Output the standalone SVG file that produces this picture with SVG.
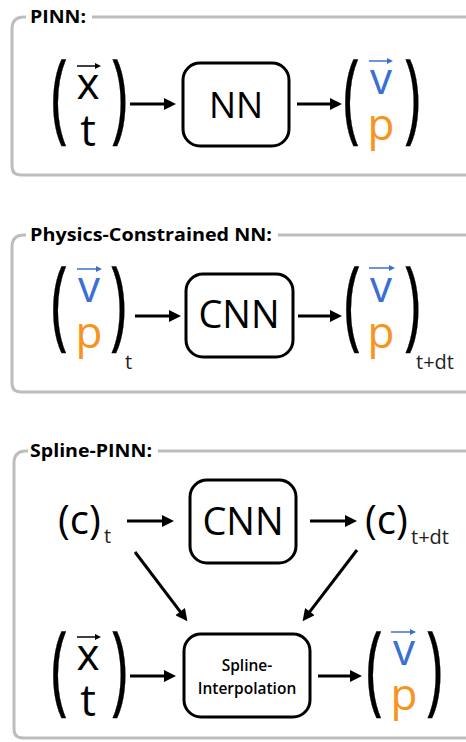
<svg xmlns="http://www.w3.org/2000/svg" width="466" height="742" viewBox="0 0 466 742">
<style>
.frame{fill:none;stroke:#bdbdbd;stroke-width:3}
.title{font-family:"Open Sans",sans-serif;font-weight:700;font-size:18px;fill:#000}
.big{font-family:"Open Sans",sans-serif;font-size:44px;text-anchor:middle}
.paren{font-family:"Open Sans",sans-serif;font-size:45px;fill:#000;stroke:#000;stroke-width:0.2}
.sub{font-family:"Open Sans",sans-serif;font-size:20px;fill:#222}
.box{fill:#fff;stroke:#000;stroke-width:3}
.lbl{font-family:"Open Sans",sans-serif;font-size:38px;text-anchor:middle;fill:#000}
.cc{font-family:"Open Sans",sans-serif;font-size:40px;fill:#000}
.spl{font-family:"Open Sans",sans-serif;font-size:15.5px;font-weight:600;text-anchor:middle;fill:#000}
.arr{stroke:#000;stroke-width:3;fill:none;marker-end:url(#ah)}
.blue{fill:#3a6fd3}
.orange{fill:#f7941d}
.vecb{stroke:#3a6fd3;stroke-width:1.5;marker-end:url(#vb)}
.veck{stroke:#000;stroke-width:1.5;marker-end:url(#vk)}
</style>
<defs>
<marker id="ah" viewBox="0 0 10 10" refX="5" refY="5" markerWidth="14" markerHeight="12" markerUnits="userSpaceOnUse" orient="auto"><path d="M0,0 L10,5 L0,10 z" fill="#000"/></marker>
<marker id="vk" viewBox="0 0 10 10" refX="5" refY="5" markerWidth="8" markerHeight="6" markerUnits="userSpaceOnUse" orient="auto"><path d="M0,0 L10,5 L0,10 z" fill="#000"/></marker>
<marker id="vb" viewBox="0 0 10 10" refX="5" refY="5" markerWidth="8" markerHeight="6" markerUnits="userSpaceOnUse" orient="auto"><path d="M0,0 L10,5 L0,10 z" fill="#3a6fd3"/></marker>
</defs>
<rect width="466" height="742" fill="#fff"/>

<g id="panel-pinn">
<path class="frame" d="M26,17 H24 Q12,17 12,29 V166 Q12,175 21,175 H468 M92,17 H468"/>
<text class="title" x="30" y="23" textLength="56" lengthAdjust="spacingAndGlyphs">PINN:</text>
</g>
<g id="pinn-input">
<text class="paren" transform="translate(51,130) scale(1.25,2.18)">(</text>
<text class="big" x="88" y="99">x</text>
<line class="veck" x1="77" y1="66" x2="98" y2="66"/>
<text class="big" x="88" y="146">t</text>
<text class="paren" transform="translate(111,130) scale(1.25,2.18)">)</text>
</g>
<g id="pinn-nn">
<rect class="box" x="183" y="63" width="106" height="83" rx="17"/>
<text class="lbl" x="236" y="118" style="font-size:36px">NN</text>
</g>
<g id="pinn-output">
<text class="paren" transform="translate(343,130) scale(1.25,2.18)">(</text>
<text class="big blue" x="381" y="94">v</text>
<line class="vecb" x1="369" y1="61" x2="390" y2="61"/>
<text class="big orange" x="381" y="140">p</text>
<text class="paren" transform="translate(404,130) scale(1.25,2.18)">)</text>
</g>

<g id="panel-pcnn">
<path class="frame" d="M26,235 H24 Q12,235 12,247 V383 Q12,392 21,392 H468 M278,235 H468"/>
<text class="title" x="30" y="241" textLength="242" lengthAdjust="spacingAndGlyphs">Physics-Constrained NN:</text>
</g>
<g id="pcnn-input">
<text class="paren" transform="translate(51,337) scale(1.25,2.18)">(</text>
<text class="big blue" x="89" y="302">v</text>
<line class="vecb" x1="77" y1="269" x2="99" y2="269"/>
<text class="big orange" x="89" y="348">p</text>
<text class="paren" transform="translate(110,337) scale(1.25,2.18)">)</text>
<text class="sub" x="125" y="369">t</text>
</g>
<g id="pcnn-cnn">
<rect class="box" x="186" y="274" width="107" height="83" rx="17"/>
<text class="lbl" x="239" y="328">CNN</text>
</g>
<g id="pcnn-output">
<text class="paren" transform="translate(344,337) scale(1.25,2.18)">(</text>
<text class="big blue" x="381" y="302">v</text>
<line class="vecb" x1="369" y1="268" x2="392" y2="268"/>
<text class="big orange" x="381" y="348">p</text>
<text class="paren" transform="translate(404,337) scale(1.25,2.18)">)</text>
<text class="sub" x="416" y="369">t+dt</text>
</g>

<g id="panel-spline">
<path class="frame" d="M28,451 H26 Q14,451 14,463 V729 Q14,738 23,738 H468 M158,451 H468"/>
<text class="title" x="30" y="457" textLength="122" lengthAdjust="spacingAndGlyphs">Spline-PINN:</text>
</g>
<g id="spline-c-t">
<text class="cc" x="58" y="534">(c)</text>
<text class="sub" x="104" y="543">t</text>
</g>
<g id="spline-cnn">
<rect class="box" x="190" y="480" width="106" height="83" rx="17"/>
<text class="lbl" x="243" y="535">CNN</text>
</g>
<g id="spline-c-tdt">
<text class="cc" x="365" y="534">(c)</text>
<text class="sub" x="411" y="544">t+dt</text>
</g>
<g id="spline-input">
<text class="paren" transform="translate(51,702) scale(1.25,2.18)">(</text>
<text class="big" x="88" y="670">x</text>
<line class="veck" x1="77" y1="637" x2="98" y2="637"/>
<text class="big" x="88" y="716">t</text>
<text class="paren" transform="translate(111,702) scale(1.25,2.18)">)</text>
</g>
<g id="spline-interp">
<rect class="box" x="184" y="634" width="126" height="83" rx="17"/>
<text class="spl" x="247" y="671">Spline-</text>
<text class="spl" x="247" y="694">Interpolation</text>
</g>
<g id="spline-output">
<text class="paren" transform="translate(366,702) scale(1.25,2.18)">(</text>
<text class="big blue" x="404" y="665">v</text>
<line class="vecb" x1="391" y1="632" x2="413" y2="632"/>
<text class="big orange" x="404" y="710">p</text>
<text class="paren" transform="translate(426,702) scale(1.25,2.18)">)</text>
</g>

<g id="connectors">
<line class="arr" x1="130" y1="104" x2="170" y2="104"/>
<line class="arr" x1="297" y1="104" x2="336" y2="104"/>
<line class="arr" x1="135" y1="316" x2="175" y2="316"/>
<line class="arr" x1="298" y1="316" x2="336" y2="316"/>
<line class="arr" x1="127" y1="521" x2="168" y2="521"/>
<line class="arr" x1="310" y1="521" x2="351" y2="521"/>
<line class="arr" x1="135" y1="552" x2="183.8" y2="616.4"/>
<line class="arr" x1="357" y1="550" x2="306.2" y2="616.4"/>
<line class="arr" x1="130" y1="676" x2="170" y2="676"/>
<line class="arr" x1="318" y1="676" x2="356" y2="676"/>
</g>
</svg>
